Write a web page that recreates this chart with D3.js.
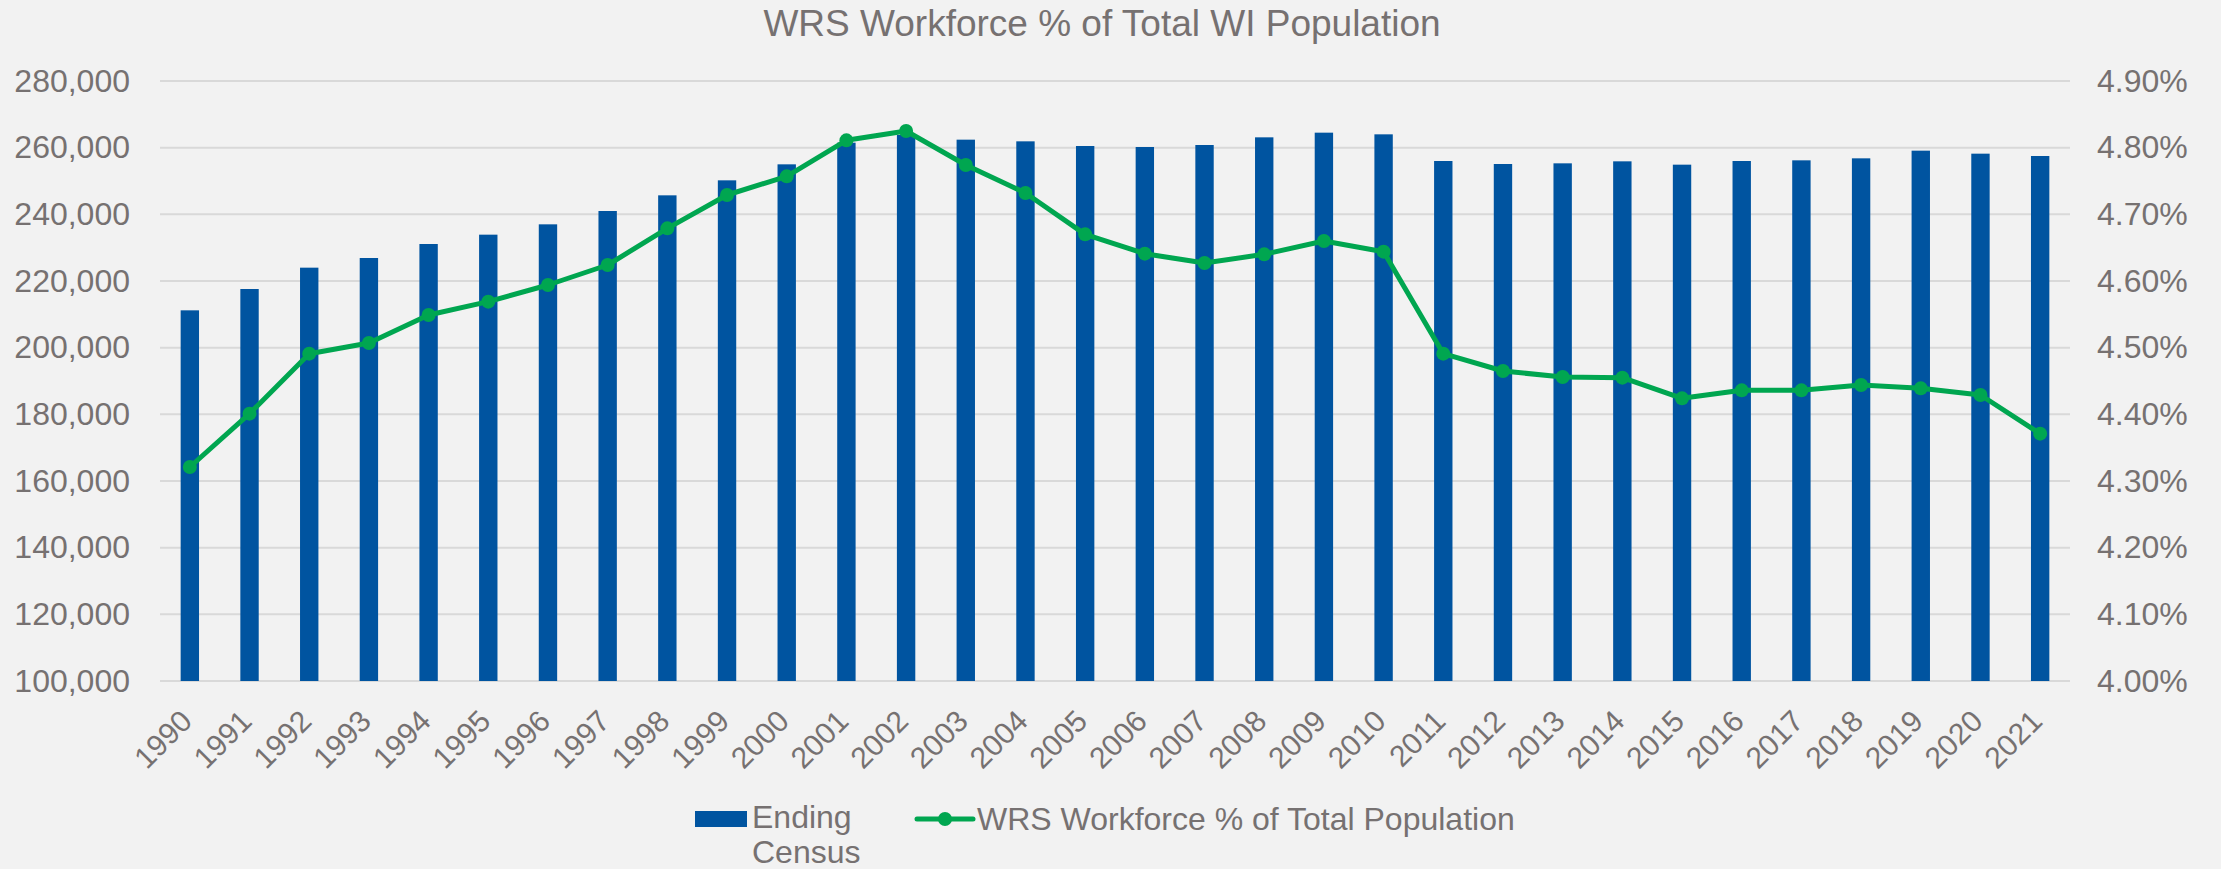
<!DOCTYPE html>
<html>
<head>
<meta charset="utf-8">
<script src="https://cdn.jsdelivr.net/npm/d3@7"></script>
<style>
  html, body { margin: 0; padding: 0; background: #F2F2F2; }
  svg { display: block; }
  text { font-family: "Liberation Sans", Arial, sans-serif; fill: #767171; }
</style>
</head>
<body>
<script>
const years = ["1990","1991","1992","1993","1994","1995","1996","1997","1998","1999","2000","2001","2002","2003","2004","2005","2006","2007","2008","2009","2010","2011","2012","2013","2014","2015","2016","2017","2018","2019","2020","2021"];
const endingCensus = [211200,217600,224000,226900,231100,233900,237000,241000,245700,250200,255000,261500,263800,262400,261900,260500,260200,260800,263100,264500,264000,256000,255100,255300,255900,254900,256000,256200,256800,259100,258200,257500];
const workforcePct = [4.321,4.401,4.491,4.507,4.549,4.569,4.594,4.624,4.679,4.729,4.757,4.811,4.825,4.774,4.732,4.670,4.641,4.627,4.640,4.660,4.644,4.491,4.465,4.456,4.455,4.424,4.436,4.436,4.444,4.439,4.429,4.371];
const leftTicks = [100000,120000,140000,160000,180000,200000,220000,240000,260000,280000];
const rightTicks = [4.0,4.1,4.2,4.3,4.4,4.5,4.6,4.7,4.8,4.9];
const title = "WRS Workforce % of Total WI Population";
const barLabel = ["Ending", "Census"];
const lineLabel = "WRS Workforce % of Total Population";

const W = 2221, H = 869;
const m = {left: 160, right: 2070, top: 81, bottom: 681};
const barColor = "#0054A0", lineColor = "#00A650", gridColor = "#D9D9D9";

const svg = d3.select("body").append("svg").attr("width", W).attr("height", H);
svg.append("rect").attr("width", W).attr("height", H).attr("fill", "#F2F2F2");

const x = d3.scaleBand().domain(years).range([m.left, m.right]).paddingInner(0.692).paddingOuter(0.346);
const yL = d3.scaleLinear().domain([100000, 280000]).range([m.bottom, m.top]);
const yR = d3.scaleLinear().domain([4.0, 4.9]).range([m.bottom, m.top]);

// gridlines
svg.append("g").selectAll("line").data(leftTicks).join("line")
  .attr("x1", m.left).attr("x2", m.right)
  .attr("y1", d => yL(d)).attr("y2", d => yL(d))
  .attr("stroke", gridColor).attr("stroke-width", 2);

// left axis
const fmt = d3.format(",");
const gL = svg.append("g").attr("transform", `translate(${m.left - 30},0)`)
  .call(d3.axisLeft(yL).tickValues(leftTicks).tickFormat(fmt).tickSize(0).tickPadding(0));
gL.select(".domain").remove();
gL.selectAll("text").style("font-size", "32px").style("font-family", "'Liberation Sans', Arial, sans-serif").attr("fill", "#767171");

// right axis
const gR = svg.append("g").attr("transform", `translate(${m.right + 27},0)`)
  .call(d3.axisRight(yR).tickValues(rightTicks).tickFormat(d => d.toFixed(2) + "%").tickSize(0).tickPadding(0));
gR.select(".domain").remove();
gR.selectAll("text").style("font-size", "32px").style("font-family", "'Liberation Sans', Arial, sans-serif").attr("fill", "#767171");

// bottom axis
const gB = svg.append("g").attr("transform", `translate(0,${m.bottom})`)
  .call(d3.axisBottom(x).tickSize(0).tickPadding(0));
gB.select(".domain").remove();
gB.selectAll("text")
  .style("font-size", "30px").style("font-family", "'Liberation Sans', Arial, sans-serif").attr("fill", "#767171")
  .attr("text-anchor", "end")
  .attr("x", 0).attr("y", 0).attr("dy", 0)
  .attr("transform", "translate(4,42) rotate(-45)");

// bars
svg.append("g").selectAll("rect").data(endingCensus).join("rect")
  .attr("x", (d, i) => x(years[i]))
  .attr("width", x.bandwidth())
  .attr("y", d => yL(d))
  .attr("height", d => yL(100000) - yL(d))
  .attr("fill", barColor);

// line
const cx = (d, i) => x(years[i]) + x.bandwidth() / 2;
const line = d3.line().x(cx).y(d => yR(d));
svg.append("path").datum(workforcePct).attr("d", line)
  .attr("fill", "none").attr("stroke", lineColor).attr("stroke-width", 5).attr("stroke-linejoin", "round");
svg.append("g").selectAll("circle").data(workforcePct).join("circle")
  .attr("cx", cx).attr("cy", d => yR(d)).attr("r", 7).attr("fill", lineColor);

// title
svg.append("text").attr("x", 1102).attr("y", 36).attr("text-anchor", "middle")
  .style("font-size", "37px").text(title);

// legend
const lg = svg.append("g");
lg.append("rect").attr("x", 695).attr("y", 811).attr("width", 52).attr("height", 16).attr("fill", barColor);
lg.append("text").attr("x", 752).attr("y", 828).style("font-size", "32px").text(barLabel[0]);
lg.append("text").attr("x", 752).attr("y", 863).style("font-size", "32px").text(barLabel[1]);
lg.append("line").attr("x1", 917).attr("x2", 973).attr("y1", 819).attr("y2", 819)
  .attr("stroke", lineColor).attr("stroke-width", 5).attr("stroke-linecap", "round");
lg.append("circle").attr("cx", 945).attr("cy", 819).attr("r", 7).attr("fill", lineColor);
lg.append("text").attr("x", 977).attr("y", 830).style("font-size", "32px").text(lineLabel);
</script>
</body>
</html>
